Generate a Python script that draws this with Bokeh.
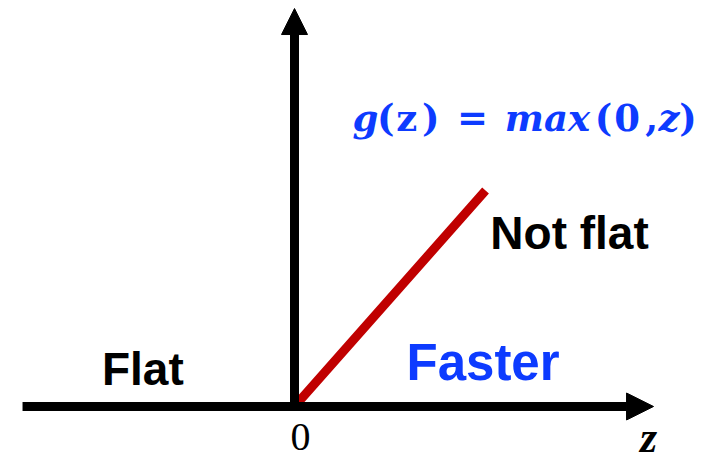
from bokeh.plotting import figure
from bokeh.models import Range1d, Arrow, NormalHead, ColumnDataSource
from bokeh.core.properties import value
from bokeh.embed import file_html
from bokeh.resources import INLINE

# ReLU curve points (z, g(z))
relu_z = [-2.52, 0.0, 1.99]
relu_g = [0.0, 0.0, 2.0]

# text annotations
label_text = ["Flat", "Not flat"]
label_z = [-1.58, 2.865]
label_g = [0.204, 1.463]
blue_text = ["Faster"]
blue_z = [1.964]
blue_g = [0.26]

# formula pieces: text, italic?, centre z
formula_text = ["g", "(", "z", ")", "=", "max", "(", "0", ",", "z", ")"]
formula_italic = [True, False, False, False, False, True, False, False, False, True, False]
formula_z = [0.74, 0.95, 1.17, 1.42, 1.854, 2.635, 3.22, 3.465, 3.72, 3.90, 4.10]
formula_g = 2.528

tick_text = ["0"]
tick_z = [0.0625]
tick_g = [-0.43]
axis_name = ["z"]
axis_name_z = [3.6875]
axis_name_g = [-0.43]

BLUE = "#0d3bff"
RED = "#c00000"
TEXT_SHIFT = 0.144  # compensates the SVG baseline placement (~15 px)

p = figure(width=720, height=461, x_range=Range1d(-3.0625, 4.4375), y_range=Range1d(-0.5093, 3.7593),
           output_backend="svg", toolbar_location=None, x_axis_type=None, y_axis_type=None,
           min_border=0)
p.grid.visible = False
p.outline_line_color = None
p.background_fill_color = "white"
p.border_fill_color = "white"

def up(vals):
    return [v + TEXT_SHIFT for v in vals]

# axes with arrows
p.add_layout(Arrow(end=NormalHead(size=27, fill_color="black", line_color="black", line_width=1),
                   x_start=-2.833, y_start=0.0, x_end=3.74, y_end=0.0,
                   line_width=9, line_color="black"))
p.add_layout(Arrow(end=NormalHead(size=26, fill_color="black", line_color="black", line_width=1),
                   x_start=0.0, y_start=-0.04, x_end=0.0, y_end=3.685,
                   line_width=9, line_color="black"))

# ReLU line
p.line(relu_z, relu_g, line_color=RED, line_width=9, line_join="miter", line_cap="butt")

# labels
p.text(x=label_z, y=up(label_g), text=label_text, text_font=value("Liberation Sans"), text_font_style="bold",
       text_font_size="46px", text_color="black", text_align="center", text_baseline="alphabetic")
p.text(x=blue_z, y=up(blue_g), text=blue_text, text_font=value("Liberation Sans"), text_font_style="bold",
       text_font_size="51px", text_color=BLUE, text_align="center", text_baseline="alphabetic")

# formula
it_src = ColumnDataSource(dict(x=[z for z, i in zip(formula_z, formula_italic) if i],
                               y=up([formula_g] * sum(formula_italic)),
                               t=[t for t, i in zip(formula_text, formula_italic) if i]))
up_src = ColumnDataSource(dict(x=[z for z, i in zip(formula_z, formula_italic) if not i],
                               y=up([formula_g] * (len(formula_italic) - sum(formula_italic))),
                               t=[t for t, i in zip(formula_text, formula_italic) if not i]))
p.text(x="x", y="y", text="t", source=it_src, text_font=value("DejaVu Serif"), text_font_style="bold italic",
       text_font_size="37px", text_color=BLUE, text_align="center", text_baseline="alphabetic")
p.text(x="x", y="y", text="t", source=up_src, text_font=value("DejaVu Serif"), text_font_style="bold",
       text_font_size="37px", text_color=BLUE, text_align="center", text_baseline="alphabetic")

# tick label and axis name
p.text(x=tick_z, y=up(tick_g), text=tick_text, text_font=value("Liberation Serif"),
       text_font_size="40px", text_color="black", text_align="center", text_baseline="alphabetic")
p.text(x=axis_name_z, y=up(axis_name_g), text=axis_name, text_font=value("Liberation Serif"),
       text_font_style="bold italic", text_font_size="44px", text_color="black",
       text_align="center", text_baseline="alphabetic")

open("out.html", "w").write(file_html(p, INLINE))
